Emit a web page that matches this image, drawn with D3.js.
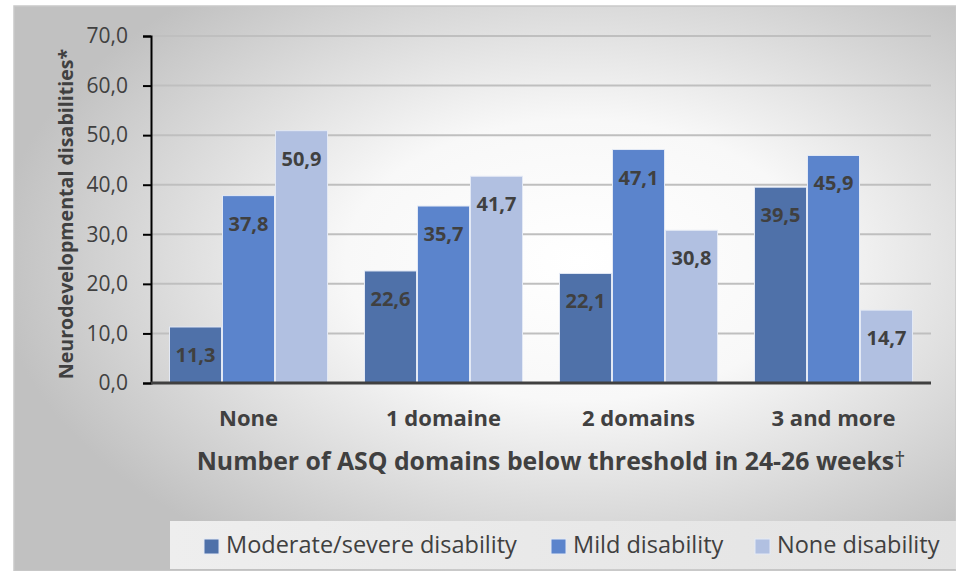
<!DOCTYPE html>
<html>
<head>
<meta charset="utf-8">
<script src="https://cdn.jsdelivr.net/npm/d3@7"></script>
<style>
  body { margin: 0; background: #fff; }
  svg text { font-family: "Open Sans", sans-serif; fill: #404040; }
</style>
</head>
<body>
<div id="chart"></div>
<script>
var categories = ['None', '1 domaine', '2 domains', '3 and more'];
var series = ['Moderate/severe disability', 'Mild disability', 'None disability'];
var moderate = [11.3, 22.6, 22.1, 39.5];
var mild = [37.8, 35.7, 47.1, 45.9];
var noneDis = [50.9, 41.7, 30.8, 14.7];
var yTicks = [0, 10, 20, 30, 40, 50, 60, 70];
var colors = ['#4f71a9', '#5b84cc', '#b1c0e1'];

var W = 956, H = 571;
var values = [moderate, mild, noneDis];

var svg = d3.select('#chart')
  .append('svg')
  .attr('width', W)
  .attr('height', H);

// background gradient of chart area
var defs = svg.append('defs');
var grad = defs.append('radialGradient')
  .attr('id', 'bg')
  .attr('cx', '0.6').attr('cy', '0.45')
  .attr('r', '0.62');
grad.append('stop').attr('offset', '0').attr('stop-color', '#ffffff');
grad.append('stop').attr('offset', '0.4').attr('stop-color', '#f8f8f8');
grad.append('stop').attr('offset', '1').attr('stop-color', '#c1c1c1');

var legGrad = defs.append('linearGradient')
  .attr('id', 'leg')
  .attr('x1', 0).attr('x2', 1).attr('y1', 0).attr('y2', 0);
legGrad.append('stop').attr('offset', '0').attr('stop-color', '#eeeeee');
legGrad.append('stop').attr('offset', '1').attr('stop-color', '#e3e3e3');

svg.append('rect')
  .attr('x', 14).attr('y', 6)
  .attr('width', W - 14).attr('height', H - 6)
  .attr('fill', 'url(#bg)')
  .attr('stroke', '#c9c9c9')
  .attr('stroke-width', 1.5);

var x0 = d3.scaleBand()
  .domain(categories)
  .range([151, 931])
  .paddingInner(36 / 195)
  .paddingOuter(18 / 195);

var x1 = d3.scaleBand()
  .domain(series)
  .range([0, x0.bandwidth()]);

var y = d3.scaleLinear()
  .domain([0, 70])
  .range([383, 36]);

// gridlines
svg.append('g')
  .selectAll('line')
  .data(yTicks.filter(function (d) { return d > 0; }))
  .join('line')
  .attr('x1', 151).attr('x2', 931)
  .attr('y1', function (d) { return y(d); })
  .attr('y2', function (d) { return y(d); })
  .attr('stroke', '#bfbfbf')
  .attr('stroke-width', 2);

// y axis
var yAxis = svg.append('g')
  .attr('transform', 'translate(151,0)')
  .call(d3.axisLeft(y)
    .tickValues(yTicks)
    .tickSize(8)
    .tickPadding(15)
    .tickFormat(function (d) { return d3.format('.1f')(d).replace('.', ','); }));
yAxis.select('.domain').attr('stroke', '#000').attr('stroke-width', 2);
yAxis.selectAll('.tick line').attr('stroke', '#000').attr('stroke-width', 2);
yAxis.selectAll('.tick text')
  .style('font-size', '21px')
  .style('font-family', '"Open Sans", sans-serif')
  .attr('fill', '#404040');

// bars
var groups = svg.append('g')
  .selectAll('g')
  .data(categories)
  .join('g')
  .attr('transform', function (d) { return 'translate(' + x0(d) + ',0)'; });

groups.each(function (cat, ci) {
  var g = d3.select(this);
  series.forEach(function (s, si) {
    var v = values[si][ci];
    g.append('rect')
      .attr('x', x1(s) + 0.5)
      .attr('y', y(v))
      .attr('width', x1.bandwidth() - 1)
      .attr('height', y(0) - y(v))
      .attr('fill', colors[si])
      .attr('stroke', '#e3e9f5')
      .attr('stroke-width', 1);
    g.append('text')
      .attr('x', x1(s) + x1.bandwidth() / 2)
      .attr('y', y(v) + 35)
      .attr('text-anchor', 'middle')
      .style('font-size', '20px')
      .style('font-weight', 'bold')
      .text(d3.format('.1f')(v).replace('.', ','));
  });
});

// x axis line
svg.append('line')
  .attr('x1', 151).attr('x2', 931)
  .attr('y1', y(0)).attr('y2', y(0))
  .attr('stroke', '#404040')
  .attr('stroke-width', 3);

// category labels
svg.append('g')
  .selectAll('text')
  .data(categories)
  .join('text')
  .attr('x', function (d) { return x0(d) + x0.bandwidth() / 2; })
  .attr('y', 426)
  .attr('text-anchor', 'middle')
  .style('font-size', '22px')
  .style('font-weight', 'bold')
  .text(function (d) { return d; });

// axis titles
var xTitle = svg.append('text')
  .attr('x', 551).attr('y', 470)
  .attr('text-anchor', 'middle')
  .style('font-size', '24.8px')
  .style('font-weight', 'bold');
xTitle.append('tspan').text('Number of ASQ domains below threshold in 24-26 weeks');
xTitle.append('tspan')
  .attr('dy', -3)
  .style('font-size', '22px')
  .style('font-weight', 'normal')
  .text('\u2020');

svg.append('text')
  .attr('transform', 'translate(73,214) rotate(-90)')
  .attr('text-anchor', 'middle')
  .style('font-size', '19.6px')
  .style('font-weight', 'bold')
  .text('Neurodevelopmental disabilities*');

// legend
svg.append('rect')
  .attr('x', 170).attr('y', 521)
  .attr('width', W - 170).attr('height', 48)
  .attr('fill', 'url(#leg)');

var legX = [204, 551, 755];
var leg = svg.append('g')
  .selectAll('g')
  .data(series)
  .join('g')
  .attr('transform', function (d, i) { return 'translate(' + legX[i] + ',539)'; });
leg.append('rect')
  .attr('width', 15).attr('height', 15)
  .attr('fill', function (d, i) { return colors[i]; })
  .attr('stroke', '#e3e9f5');
leg.append('text')
  .attr('x', 22).attr('y', 14)
  .style('font-size', '23.5px')
  .text(function (d) { return d; });
</script>
</body>
</html>
